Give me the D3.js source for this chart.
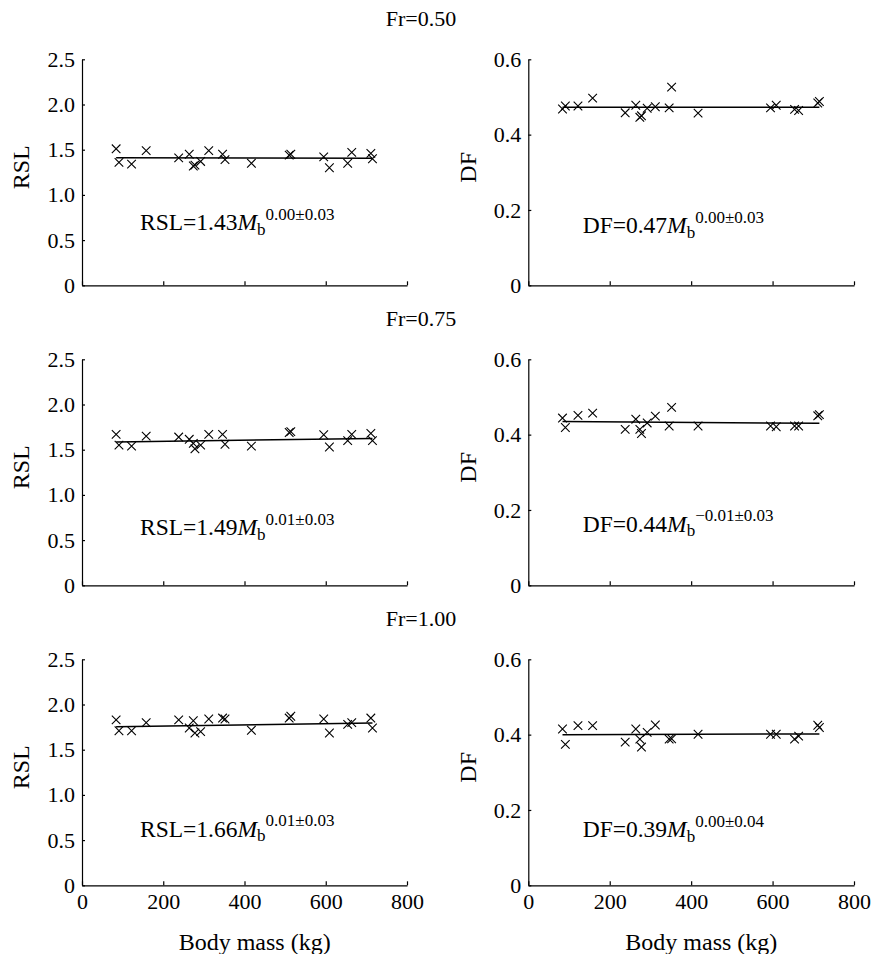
<!DOCTYPE html>
<html lang="en">
<head>
<meta charset="utf-8">
<title>RSL and DF vs body mass</title>
<script src="https://d3js.org/d3.v7.min.js"></script>
<style>
    body{ margin:0; background:#fff; }
    svg{ display:block; }
    text{ font-family:'Liberation Serif','Times New Roman',serif; fill:#000; }
    .tick text{ font-size:22px; }
    .domain, .tick line{ stroke:#000; stroke-width:1.2px; }
    .axisT{ font-size:24px; }
    .titleT{ font-size:22px; }
    .eqT{ font-size:23.5px; }
    .fit{ fill:none; stroke:#000; stroke-width:1.5px; }
    .mark{ stroke:#000; stroke-width:1.1px; }
</style>
</head>
<body>
<div id="container"></div>
<script>
// Froude numbers (one row each)
var froude = ['Fr=0.50', 'Fr=0.75', 'Fr=1.00'];

// body masses (kg) of the animals in the RSL panels and in the DF panels
var rslMass = [84, 91, 122, 158, 238, 264, 274, 278, 292, 312, 346, 352, 417, 510, 514, 595, 609, 654, 664, 711, 715];
var dfMass  = [84, 91, 122, 158, 238, 264, 274, 278, 292, 312, 346, 352, 417, 595, 609, 654, 664, 711, 715];

// relative stride length
var rsl050 = [1.51, 1.36, 1.34, 1.49, 1.41, 1.45, 1.32, 1.33, 1.37, 1.49, 1.45, 1.39, 1.35, 1.44, 1.45, 1.42, 1.30, 1.35, 1.47, 1.46, 1.40];
var rsl075 = [1.67, 1.55, 1.54, 1.65, 1.64, 1.615, 1.57, 1.51, 1.55, 1.67, 1.67, 1.56, 1.54, 1.69, 1.70, 1.665, 1.53, 1.60, 1.67, 1.68, 1.60];
var rsl100 = [1.83, 1.71, 1.71, 1.80, 1.83, 1.74, 1.82, 1.685, 1.70, 1.84, 1.85, 1.84, 1.715, 1.85, 1.87, 1.84, 1.685, 1.78, 1.80, 1.85, 1.74];

// duty factor
var df050 = [0.468, 0.476, 0.476, 0.497, 0.458, 0.478, 0.446, 0.450, 0.470, 0.474, 0.471, 0.526, 0.457, 0.471, 0.478, 0.467, 0.464, 0.484, 0.488];
var df075 = [0.444, 0.419, 0.451, 0.457, 0.414, 0.441, 0.414, 0.403, 0.431, 0.449, 0.423, 0.4725, 0.423, 0.423, 0.421, 0.423, 0.423, 0.450, 0.453];
var df100 = [0.415, 0.374, 0.424, 0.424, 0.380, 0.415, 0.388, 0.367, 0.406, 0.4255, 0.388, 0.389, 0.401, 0.401, 0.401, 0.388, 0.396, 0.425, 0.419];

// fitted allometric lines, value at the two ends
var fitMass = [84, 715];
var rslFit = [[1.41, 1.405], [1.585, 1.625], [1.755, 1.795]];
var dfFit  = [[0.473, 0.473], [0.435, 0.430], [0.400, 0.402]];

// equations
var rslEq  = ['RSL=1.43', 'RSL=1.49', 'RSL=1.66'];
var rslExp = ['0.00\u00b10.03', '0.01\u00b10.03', '0.01\u00b10.03'];
var dfEq   = ['DF=0.47', 'DF=0.44', 'DF=0.39'];
var dfExp  = ['0.00\u00b10.03', '\u22120.01\u00b10.03', '0.00\u00b10.04'];

// axes
var massTicks = [0, 200, 400, 600, 800];
var rslTicks = [0, 0.5, 1.0, 1.5, 2.0, 2.5];
var dfTicks = [0, 0.2, 0.4, 0.6];

var W = 876, H = 954;
var svg = d3.select('#container').append('svg')
            .attr('width', W).attr('height', H);

var cols = [
    {x0: 82, x1: 407, label: 'RSL', mass: rslMass, values: [rsl050, rsl075, rsl100], fit: rslFit,
     eq: rslEq, exp: rslExp, max: 2.5, ticks: rslTicks, labelX: 20.5, eqX: 140},
    {x0: 528.3, x1: 854, label: 'DF', mass: dfMass, values: [df050, df075, df100], fit: dfFit,
     eq: dfEq, exp: dfExp, max: 0.6, ticks: dfTicks, labelX: 467.5, eqX: 582.7}
];
var rowTop = 59.3, rowH = 226, rowStep = 300;
var eqLift = [[55, 50, 48.6], [52, 53.6, 48]];
var titleY = [26, 326, 626];

var fmt = function(d){ return d === 0 ? '0' : d3.format('.1f')(d); };

froude.forEach(function(fr, r){
    svg.append('text')
       .attr('class', 'titleT')
       .attr('x', 421)
       .attr('y', titleY[r])
       .attr('text-anchor', 'middle')
       .text(fr);

    cols.forEach(function(c, ci){
        var top = rowTop + r*rowStep, bottom = top + rowH;
        var x = d3.scaleLinear().domain([0, 800]).range([c.x0, c.x1]);
        var y = d3.scaleLinear().domain([0, c.max]).range([bottom, top]);
        var g = svg.append('g');

        g.append('g')
         .attr('transform', 'translate(0,' + bottom + ')')
         .call(d3.axisBottom(x).tickValues(massTicks).tickSizeInner(-4).tickSizeOuter(0).tickPadding(8)
                 .tickFormat(r === 2 ? d3.format('d') : function(){ return ''; }));
        g.append('g')
         .attr('transform', 'translate(' + c.x0 + ',0)')
         .call(d3.axisLeft(y).tickValues(c.ticks).tickSizeInner(-3).tickSizeOuter(0).tickPadding(7)
                 .tickFormat(fmt));

        g.append('text')
         .attr('class', 'axisT')
         .attr('text-anchor', 'middle')
         .attr('transform', 'translate(' + c.labelX + ',' + (top + 108) + ') rotate(-90)')
         .attr('dy', '0.35em')
         .text(c.label);

        // fitted line
        var line = d3.line().x(function(d){ return x(d[0]); }).y(function(d){ return y(d[1]); });
        g.append('path')
         .attr('class', 'fit')
         .attr('d', line(fitMass.map(function(m, i){ return [m, c.fit[r][i]]; })));

        // crosses
        var pts = c.mass.map(function(m, i){ return [m, c.values[r][i]]; })
                        .filter(function(d){ return d[1] != null; });
        var s = 4.3;
        g.selectAll('.mark')
         .data(pts)
         .enter()
         .append('path')
         .attr('class', 'mark')
         .attr('d', function(d){
             var px = x(d[0]), py = y(d[1]);
             return 'M' + (px - s) + ',' + (py - s) + 'L' + (px + s) + ',' + (py + s) +
                    'M' + (px - s) + ',' + (py + s) + 'L' + (px + s) + ',' + (py - s);
         });

        // equation
        var eq = g.append('text')
                  .attr('class', 'eqT')
                  .attr('x', c.eqX)
                  .attr('y', bottom - eqLift[ci][r]);
        eq.append('tspan').text(c.eq[r]);
        eq.append('tspan').attr('font-style', 'italic').text('M');
        eq.append('tspan').attr('font-size', 17).attr('dy', 4.5).text('b');
        eq.append('tspan').attr('font-size', 17).attr('dy', -15).text(c.exp[r]);

        if (r === 2) {
            g.append('text')
             .attr('class', 'axisT')
             .attr('text-anchor', 'middle')
             .attr('x', x(425))
             .attr('y', 950)
             .text('Body mass (kg)');
        }
    });
});
</script>
</body>
</html>
